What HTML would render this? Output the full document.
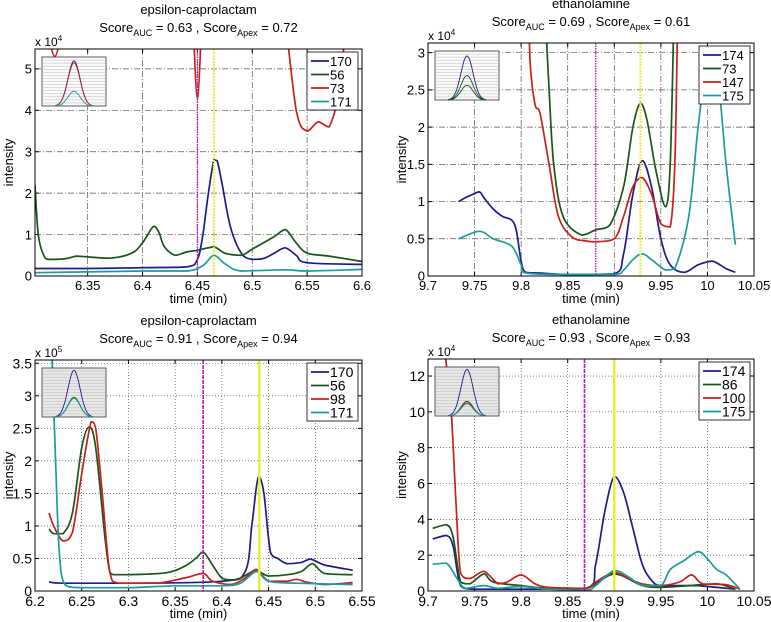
<!DOCTYPE html>
<html><head><meta charset="utf-8"><style>
body{margin:0;background:#fff;}
svg{display:block;font-family:"Liberation Sans",sans-serif;}
</style></head><body>
<svg id="fig" width="771" height="622"></svg>
<script>
// ---------- data ----------
const p1Title = "epsilon-caprolactam", p1Auc = "0.63", p1Apex = "0.72";
const p1Labels = ["170","56","73","171"];
const p1S170 = [[6.302,0.18],[6.35,0.18],[6.40,0.2],[6.44,0.22],[6.45,0.4],[6.455,1.0],[6.46,2.0],[6.465,2.8],[6.468,2.78],[6.472,2.3],[6.48,1.2],[6.49,0.55],[6.5,0.4],[6.51,0.42],[6.52,0.55],[6.53,0.68],[6.54,0.5],[6.55,0.32],[6.6,0.28]];
const p1S56 = [[6.302,2.2],[6.305,1.0],[6.31,0.5],[6.315,0.4],[6.33,0.42],[6.34,0.48],[6.35,0.46],[6.37,0.43],[6.39,0.55],[6.40,0.8],[6.41,1.2],[6.415,1.05],[6.42,0.7],[6.43,0.5],[6.44,0.58],[6.45,0.62],[6.465,0.7],[6.475,0.55],[6.49,0.5],[6.50,0.65],[6.52,0.95],[6.53,1.12],[6.54,0.8],[6.55,0.55],[6.57,0.48],[6.6,0.35]];
const p1S73 = [[6.308,7],[6.32,5.3],[6.332,7],null,[6.445,7],[6.45,4.3],[6.455,7],null,[6.527,7],[6.54,4.0],[6.55,3.5],[6.56,3.72],[6.57,3.6],[6.58,4.6],[6.586,6.5]];
const p1S171 = [[6.302,0.08],[6.35,0.1],[6.40,0.12],[6.44,0.12],[6.455,0.25],[6.465,0.5],[6.475,0.3],[6.49,0.12],[6.53,0.15],[6.55,0.12],[6.6,0.16]];
const p1Vlines = [6.45, 6.465];
const p1XTicks = [6.35,6.4,6.45,6.5,6.55,6.6];
const p1XTickLabels = ["6.35","6.4","6.45","6.5","6.55","6.6"];
const p1YTicks = [0,1,2,3,4,5];
const p1YTickLabels = ["0","1","2","3","4","5"];

const p2Title = "ethanolamine", p2Auc = "0.69", p2Apex = "0.61";
const p2Labels = ["174","73","147","175"];
const p2S174 = [[9.733,1.0],[9.74,1.05],[9.745,1.08],[9.755,1.13],[9.76,1.05],[9.77,0.9],[9.78,0.8],[9.79,0.75],[9.795,0.6],[9.8,0.2],[9.805,0.05],[9.82,0.04],[9.85,0.02],[9.9,0.03],[9.91,0.3],[9.92,1.1],[9.93,1.55],[9.94,1.2],[9.95,0.5],[9.96,0.15],[9.975,0.05],[9.99,0.15],[10.005,0.2],[10.02,0.1],[10.03,0.05]];
const p2S73 = [[9.826,3.5],[9.83,2.5],[9.835,1.5],[9.845,0.8],[9.865,0.55],[9.88,0.62],[9.895,0.68],[9.91,1.2],[9.92,2.0],[9.928,2.32],[9.935,2.1],[9.945,1.4],[9.955,0.93],[9.96,1.5],[9.964,3.5]];
const p2S147 = [[9.808,3.5],[9.81,2.8],[9.815,2.3],[9.82,2.2],[9.83,1.5],[9.84,0.8],[9.855,0.52],[9.87,0.47],[9.88,0.46],[9.9,0.5],[9.91,0.8],[9.92,1.2],[9.93,1.32],[9.94,1.1],[9.95,0.7],[9.96,0.66],[9.965,1.5],[9.968,3.5]];
const p2S175 = [[9.733,0.5],[9.755,0.6],[9.77,0.5],[9.79,0.4],[9.8,0.15],[9.805,0.04],[9.85,0.02],[9.9,0.02],[9.91,0.08],[9.92,0.22],[9.93,0.3],[9.94,0.22],[9.955,0.08],[9.965,0.1],[9.98,0.8],[9.99,2.0],[10.0,2.9],[10.01,2.8],[10.02,1.5],[10.03,0.42]];
const p2Vlines = [9.88, 9.928];
const p2XTicks = [9.7,9.75,9.8,9.85,9.9,9.95,10,10.05];
const p2XTickLabels = ["9.7","9.75","9.8","9.85","9.9","9.95","10","10.05"];
const p2YTicks = [0,0.5,1,1.5,2,2.5,3];
const p2YTickLabels = ["0","0.5","1","1.5","2","2.5","3"];

const p3Title = "epsilon-caprolactam", p3Auc = "0.91", p3Apex = "0.94";
const p3Labels = ["170","56","98","171"];
const p3S170 = [[6.215,0.14],[6.23,0.12],[6.3,0.12],[6.4,0.15],[6.425,0.3],[6.432,1.0],[6.437,1.6],[6.44,1.76],[6.445,1.5],[6.452,0.6],[6.46,0.5],[6.47,0.42],[6.485,0.44],[6.495,0.49],[6.51,0.4],[6.54,0.32]];
const p3S56 = [[6.215,0.95],[6.22,0.88],[6.23,0.88],[6.24,1.2],[6.25,2.2],[6.258,2.52],[6.265,2.2],[6.275,0.8],[6.28,0.3],[6.285,0.25],[6.3,0.25],[6.34,0.28],[6.36,0.38],[6.372,0.5],[6.38,0.6],[6.39,0.4],[6.40,0.2],[6.41,0.17],[6.42,0.2],[6.43,0.28],[6.437,0.32],[6.45,0.23],[6.47,0.25],[6.485,0.3],[6.497,0.42],[6.51,0.27],[6.54,0.25]];
const p3S98 = [[6.215,1.2],[6.22,1.0],[6.23,0.77],[6.24,0.9],[6.25,1.8],[6.26,2.6],[6.265,2.5],[6.272,1.5],[6.28,0.3],[6.29,0.12],[6.33,0.12],[6.36,0.2],[6.38,0.27],[6.39,0.15],[6.41,0.1],[6.425,0.2],[6.437,0.33],[6.45,0.15],[6.47,0.15],[6.48,0.18],[6.49,0.14],[6.51,0.1],[6.54,0.13]];
const p3S171 = [[6.218,3.7],[6.222,2.0],[6.226,0.6],[6.232,0.1],[6.25,0.05],[6.3,0.05],[6.35,0.08],[6.4,0.08],[6.42,0.12],[6.437,0.3],[6.45,0.15],[6.48,0.12],[6.54,0.1]];
const p3Vlines = [6.38, 6.44];
const p3XTicks = [6.2,6.25,6.3,6.35,6.4,6.45,6.5,6.55];
const p3XTickLabels = ["6.2","6.25","6.3","6.35","6.4","6.45","6.5","6.55"];
const p3YTicks = [0,0.5,1,1.5,2,2.5,3,3.5];
const p3YTickLabels = ["0","0.5","1","1.5","2","2.5","3","3.5"];

const p4Title = "ethanolamine", p4Auc = "0.93", p4Apex = "0.93";
const p4Labels = ["174","86","100","175"];
const p4S174 = [[9.705,2.9],[9.72,3.1],[9.727,2.5],[9.735,0.3],[9.75,0.1],[9.8,0.1],[9.87,0.15],[9.88,1.5],[9.89,4.5],[9.9,6.4],[9.91,5.5],[9.92,3.5],[9.93,1.5],[9.94,0.6],[9.95,0.3],[9.98,0.3],[9.99,0.3],[10.03,0.1]];
const p4S86 = [[9.705,3.5],[9.72,3.7],[9.727,3.0],[9.735,0.5],[9.745,0.4],[9.76,0.95],[9.77,0.5],[9.8,0.3],[9.83,0.15],[9.87,0.15],[9.9,0.95],[9.93,0.3],[9.95,0.2],[9.98,0.3],[10.01,0.4],[10.03,0.1]];
const p4S100 = [[9.718,13.5],[9.72,12.5],[9.725,10],[9.73,5],[9.735,1.0],[9.745,0.7],[9.76,1.1],[9.775,0.4],[9.785,0.5],[9.8,0.9],[9.815,0.4],[9.83,0.2],[9.87,0.15],[9.88,0.5],[9.9,1.05],[9.915,0.7],[9.93,0.4],[9.95,0.3],[9.97,0.5],[9.983,0.9],[9.995,0.4],[10.02,0.35],[10.035,0.1]];
const p4S175 = [[9.705,1.5],[9.72,1.55],[9.73,0.8],[9.74,0.15],[9.76,0.3],[9.775,0.15],[9.8,0.25],[9.83,0.1],[9.87,0.05],[9.88,0.3],[9.9,1.15],[9.915,0.8],[9.93,0.3],[9.95,0.3],[9.96,1.2],[9.975,1.7],[9.99,2.2],[10.0,1.8],[10.01,1.2],[10.02,0.9],[10.035,0.1]];
const p4Vlines = [9.868, 9.9];
const p4XTicks = [9.7,9.75,9.8,9.85,9.9,9.95,10,10.05];
const p4XTickLabels = ["9.7","9.75","9.8","9.85","9.9","9.95","10","10.05"];
const p4YTicks = [0,2,4,6,8,10,12];
const p4YTickLabels = ["0","2","4","6","8","10","12"];

// ---------- rendering ----------
const NS = "http://www.w3.org/2000/svg";
const svg = document.getElementById('fig');
const colors = ["#1c1c8a","#1a551a","#c8201c","#1a9c9c"];
function mk(tag, attrs, parent){
  const e = document.createElementNS(NS, tag);
  for (const k in attrs) e.setAttribute(k, attrs[k]);
  (parent||svg).appendChild(e);
  return e;
}
function clamp(v,a,b){const lo=Math.min(a,b),hi=Math.max(a,b);return Math.max(lo,Math.min(hi,v));}
function smoothPath(pts){
  let d = "";
  for (let i=0;i<pts.length;i++){
    const p = pts[i];
    if (i===0){ d += "M"+p[0].toFixed(1)+","+p[1].toFixed(1); continue; }
    const p0 = pts[Math.max(0,i-2)], p1 = pts[i-1], p3 = pts[Math.min(pts.length-1,i+1)];
    const c1x = p1[0]+(p[0]-p0[0])/6, c1y = clamp(p1[1]+(p[1]-p0[1])/6, p1[1], p[1]);
    const c2x = p[0]-(p3[0]-p1[0])/6, c2y = clamp(p[1]-(p3[1]-p1[1])/6, p1[1], p[1]);
    d += "C"+c1x.toFixed(1)+","+c1y.toFixed(1)+" "+c2x.toFixed(1)+","+c2y.toFixed(1)+" "+p[0].toFixed(1)+","+p[1].toFixed(1);
  }
  return d;
}
let clipId = 0;
function panel(cfg){
  const {L,R,T,B,xmin,xmax,ymin,ymax,title,auc,apex,series,labels,vlines,xt,xtl,yt,ytl,exp,dotted,fs,key} = cfg;
  const g = mk('g', {});
  
  
  const X = v => L + (v-xmin)/(xmax-xmin)*(R-L);
  const Y = v => B - (v-ymin)/(ymax-ymin)*(B-T);
  const cx = (L+R)/2;
  const t1 = mk('text', {x:cx, y:T-35, 'text-anchor':'middle','font-size':13}, g);
  t1.textContent = title;
  
  
  const t2 = mk('text', {x:cx, y:T-17, 'text-anchor':'middle','font-size':13}, g);
  
  
  t2.innerHTML = 'Score<tspan font-size="9" dy="4">AUC</tspan><tspan dy="-4"> = '+auc+' , Score</tspan><tspan font-size="9" dy="4">Apex</tspan><tspan dy="-4"> = '+apex+'</tspan>';
  const gridAttrs = dotted ? {stroke:'#333','stroke-width':0.6,'stroke-dasharray':'1,2'} : {stroke:'#555','stroke-width':0.7,'stroke-dasharray':'6,2,1,2'};
  xt.forEach((v,i)=>{
    const x = X(v);
    if (x>L+1 && x<R-1){
      const gl = mk('line', Object.assign({x1:x,x2:x,y1:T,y2:B}, gridAttrs), g);
      
      
    }
    mk('line',{x1:x,x2:x,y1:B,y2:B-4,stroke:'#000'},g);
    mk('line',{x1:x,x2:x,y1:T,y2:T+4,stroke:'#000'},g);
    const tl = mk('text',{x:x,y:B+fs+1,'text-anchor':'middle','font-size':fs},g);
    tl.textContent = xtl[i];
    
    
  });
  yt.forEach((v,i)=>{
    const y = Y(v);
    if (y>T+1 && y<B-1){
      const gl = mk('line', Object.assign({x1:L,x2:R,y1:y,y2:y}, gridAttrs), g);
      
      
    }
    mk('line',{x1:L,x2:L+4,y1:y,y2:y,stroke:'#000'},g);
    mk('line',{x1:R,x2:R-4,y1:y,y2:y,stroke:'#000'},g);
    const tl = mk('text',{x:L-3,y:y+fs*0.36,'text-anchor':'end','font-size':fs},g);
    tl.textContent = ytl[i];
    
    
  });
  const cid = 'clip'+(clipId++);
  const cp = mk('clipPath',{id:cid},g);
  mk('rect',{x:L,y:T,width:R-L,height:B-T},cp);
  const plot = mk('g',{'clip-path':'url(#'+cid+')'},g);
  series.forEach((s,si)=>{
    let segs=[[]];
    s.forEach(p=>{ if(p===null) segs.push([]); else segs[segs.length-1].push([X(p[0]),Y(p[1])]); });
    segs.forEach(seg=>{
      if(seg.length<2) return;
      const path = mk('path',{d:smoothPath(seg),fill:'none',stroke:colors[si],'stroke-width':1.7},plot);
      
      
    });
  });
  const vm = mk('line',{x1:X(vlines[0]),x2:X(vlines[0]),y1:T,y2:B,stroke:'#c01ab0','stroke-width':dotted?1.6:1.4,'stroke-dasharray':dotted?'4,1':'1.5,1'},plot);
  
  
  const vy = mk('line',{x1:X(vlines[1]),x2:X(vlines[1]),y1:T,y2:B,stroke:'#eeee30','stroke-width':dotted?2.5:2,'stroke-dasharray':dotted?'':'2,1'},plot);
  
  
  const box = mk('rect',{x:L,y:T,width:R-L,height:B-T,fill:'none',stroke:'#000','stroke-width':1},g);
  
  
  const ex = mk('text',{x:L,y:T-3,'font-size':12},g);
  ex.innerHTML = 'x 10<tspan font-size="8" dy="-5">'+exp+'</tspan>';
  
  
  const yl = mk('text',{x:0,y:0,'font-size':13,'text-anchor':'middle',transform:'translate('+(L-22)+','+((T+B)/2)+') rotate(-90)'},g);
  yl.textContent = 'intensity';
  
  
  const xl = mk('text',{x:cx,y:B+27,'font-size':13,'text-anchor':'middle'},g);
  xl.textContent = 'time (min)';
  
  
  const ix = L+7, iy = T+8, iw = 64, ih = 49;
  const ins = mk('g',{},g);
  
  
  mk('rect',{x:ix,y:iy,width:iw,height:ih,fill:dotted?'#e8e8e8':'#fafafa',stroke:'#333','stroke-width':0.8},ins);
  for(let k=1;k<16;k++) mk('line',{x1:ix,x2:ix+iw,y1:iy+k*ih/16,y2:iy+k*ih/16,stroke:'#aaa','stroke-width':0.4},ins);
  const amps = cfg.insetAmps;
  amps.forEach((a,ai)=>{
    let d='';
    for(let k=0;k<=40;k++){
      const u=k/40, xx=ix+13+u*38, yy=iy+ih-a*ih*Math.exp(-Math.pow((u-0.5)/0.16,2)/2);
      d+=(k?'L':'M')+xx.toFixed(1)+','+yy.toFixed(1);
    }
    mk('path',{d:d,fill:'none',stroke:colors[cfg.insetColors[ai]],'stroke-width':0.9},ins);
  });
  const lw = 51, lh = 58, lx = R-lw-4, ly = T+3;
  const lg = mk('g',{},g);
  
  
  mk('rect',{x:lx,y:ly,width:lw,height:lh,fill:'#fff',stroke:'#000','stroke-width':0.8},lg);
  labels.forEach((lab,i)=>{
    const yy = ly+9+i*13.5;
    const e = mk('g',{},lg);
    
    
    mk('line',{x1:lx+4,x2:lx+22,y1:yy,y2:yy,stroke:colors[i],'stroke-width':1.8},e);
    const tt = mk('text',{x:lx+23,y:yy+5,'font-size':fs},e);
    tt.textContent = lab;
  });
}
panel({key:'top-left',L:35,R:362,T:49,B:276,xmin:6.302,xmax:6.6,ymin:0,ymax:5.48,title:p1Title,auc:p1Auc,apex:p1Apex,series:[p1S170,p1S56,p1S73,p1S171],labels:p1Labels,vlines:p1Vlines,xt:p1XTicks,xtl:p1XTickLabels,yt:p1YTicks,ytl:p1YTickLabels,exp:'4',dotted:false,fs:13,insetAmps:[0.92,0.88,0.3],insetColors:[0,2,3]});
panel({key:'top-right',L:428,R:754,T:43,B:276,xmin:9.7,xmax:10.05,ymin:0,ymax:3.13,title:p2Title,auc:p2Auc,apex:p2Apex,series:[p2S174,p2S73,p2S147,p2S175],labels:p2Labels,vlines:p2Vlines,xt:p2XTicks,xtl:p2XTickLabels,yt:p2YTicks,ytl:p2YTickLabels,exp:'4',dotted:false,fs:13,insetAmps:[0.9,0.5,0.3],insetColors:[0,1,1]});
panel({key:'bottom-left',L:35,R:362,T:360,B:591,xmin:6.2,xmax:6.55,ymin:0,ymax:3.55,title:p3Title,auc:p3Auc,apex:p3Apex,series:[p3S170,p3S56,p3S98,p3S171],labels:p3Labels,vlines:p3Vlines,xt:p3XTicks,xtl:p3XTickLabels,yt:p3YTicks,ytl:p3YTickLabels,exp:'5',dotted:true,fs:14,insetAmps:[0.95,0.4,0.38],insetColors:[0,1,3]});
panel({key:'bottom-right',L:428,R:754,T:359,B:591,xmin:9.7,xmax:10.05,ymin:0,ymax:12.95,title:p4Title,auc:p4Auc,apex:p4Apex,series:[p4S174,p4S86,p4S100,p4S175],labels:p4Labels,vlines:p4Vlines,xt:p4XTicks,xtl:p4XTickLabels,yt:p4YTicks,ytl:p4YTickLabels,exp:'4',dotted:true,fs:14,insetAmps:[0.95,0.3,0.27,0.25],insetColors:[0,1,2,3]});
</script>
</body></html>
